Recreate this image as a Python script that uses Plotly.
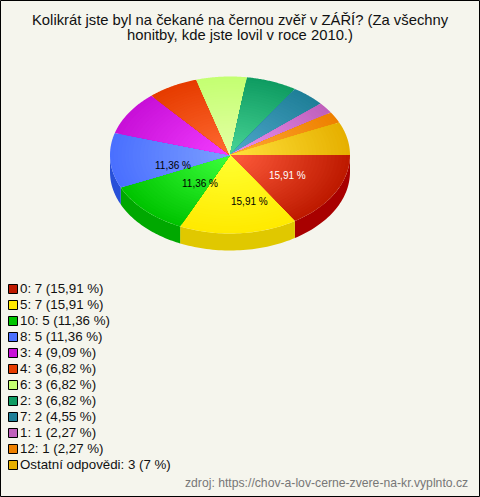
import numpy as np
import plotly.graph_objects as go

categories = ["0", "5", "10", "8", "3", "4", "6", "2", "7", "1", "12", "Ostatní odpovědi"]
values = [7, 7, 5, 5, 4, 3, 3, 3, 2, 1, 1, 3]
pct_text = ["15,91", "15,91", "11,36", "11,36", "9,09", "6,82", "6,82", "6,82", "4,55", "2,27", "2,27", "7"]
outer_colors = ["#be1a00", "#ffea00", "#00c400", "#4a70ff", "#c810d8", "#e63c00", "#c4ff72", "#0f9c62", "#1f7f98", "#c060bc", "#ee8000", "#e6b000"]
inner_colors = ["#ff5c3c", "#ffff30", "#3cff3c", "#7c9eff", "#f23cff", "#ff6a32", "#e4ffa4", "#48d496", "#50a8cc", "#ea92ee", "#ffaa34", "#ffe23c"]
side_colors = ["#a80000", "#e0c800", "#00a800", "#2850d8"]
title_lines = ["Kolikrát jste byl na čekané na černou zvěř v ZÁŘÍ? (Za všechny", "honitby, kde jste lovil v roce 2010.)"]
source_text = "zdroj: https://chov-a-lov-cerne-zvere-na-kr.vyplnto.cz"
slice_labels = [("15,91 %", 287, 175, "white"), ("15,91 %", 249, 201, "black"),
                ("11,36 %", 200, 183, "black"), ("11,36 %", 173, 165, "black")]

W, H = 480, 497
CX, CY, RX, RY, DEPTH = 230, 155, 120, 78.5, 17
BG = "#f5f5ed"
RINGS = 32
FONT = "Liberation Sans"


def hex_rgb(c):
    return np.array([int(c[i:i + 2], 16) for i in (1, 3, 5)], dtype=float)


def mix(a, b, t):
    r = hex_rgb(a) * (1 - t) + hex_rgb(b) * t
    return "rgb(%d,%d,%d)" % tuple(r.round())


fig = go.Figure()
angles = np.cumsum([0] + values) / sum(values) * 2 * np.pi


def add_poly(xs, ys, color):
    fig.add_trace(go.Scatter(x=xs, y=ys, mode="none", fill="toself", fillcolor=color,
                             hoverinfo="skip", showlegend=False))


# side wall: only the part of the rim facing the viewer
for i, col in enumerate(side_colors):
    a0, a1 = angles[i], min(angles[i + 1], np.pi)
    t = np.linspace(a0, a1, 40)
    xs = CX + RX * np.cos(t)
    ys = CY + RY * np.sin(t)
    add_poly(np.r_[xs, xs[::-1]], np.r_[ys, ys[::-1] + DEPTH], col)

# top surface: wedges painted outside-in to build the radial shading
for i in range(len(values)):
    a0, a1 = angles[i], angles[i + 1]
    t = np.linspace(a0, a1, 50)
    for k in range(RINGS):
        f = 1 - k / RINGS
        xs = np.r_[CX, CX + f * RX * np.cos(t), CX]
        ys = np.r_[CY, CY + f * RY * np.sin(t), CY]
        add_poly(xs, ys, mix(outer_colors[i], inner_colors[i], k / (RINGS - 1)))

# legend keys + text
leg_y = [289 + 16 * i for i in range(len(categories))]
leg_labels = [f"{c}: {v} ({p} %)" for c, v, p in zip(categories, values, pct_text)]
fig.add_trace(go.Scatter(x=[13] * len(categories), y=leg_y, mode="markers",
                         marker=dict(symbol="square", size=9, color=outer_colors,
                                     line=dict(color="black", width=1)),
                         hoverinfo="skip", showlegend=False))
fig.add_trace(go.Scatter(x=[20] * len(categories), y=[v + 1 for v in leg_y], mode="text", text=leg_labels,
                         textposition="middle right",
                         textfont=dict(family=FONT, size=13.3, color="#111111"),
                         hoverinfo="skip", showlegend=False))

anns = []
for j, line in enumerate(title_lines):
    anns.append(dict(x=240, y=20 + 15 * j, text=line, showarrow=False, xanchor="center", yanchor="middle",
                     font=dict(family=FONT, size=14.8, color="#111111")))
for txt, x, y, col in slice_labels:
    anns.append(dict(x=x, y=y, text=txt, showarrow=False, xanchor="center", yanchor="middle",
                     font=dict(family=FONT, size=10, color=col)))
anns.append(dict(x=470, y=483, text=source_text, showarrow=False, xanchor="right", yanchor="middle",
                 font=dict(family=FONT, size=12.2, color="#777777")))

fig.update_layout(
    width=W, height=H, margin=dict(l=0, r=0, t=0, b=0, pad=0), autosize=False,
    paper_bgcolor=BG, plot_bgcolor=BG, showlegend=False, annotations=anns,
    xaxis=dict(range=[0, W], visible=False, fixedrange=True),
    yaxis=dict(range=[H, 0], visible=False, fixedrange=True),
    shapes=[dict(type="rect", x0=0.5, y0=0.5, x1=W - 0.5, y1=H - 0.5,
                 line=dict(color="black", width=1), fillcolor="rgba(0,0,0,0)")],
)
fig.write_html("out.html", config={"displayModeBar": False},
               post_script="document.body.style.margin='0';document.documentElement.style.overflow='hidden';")
